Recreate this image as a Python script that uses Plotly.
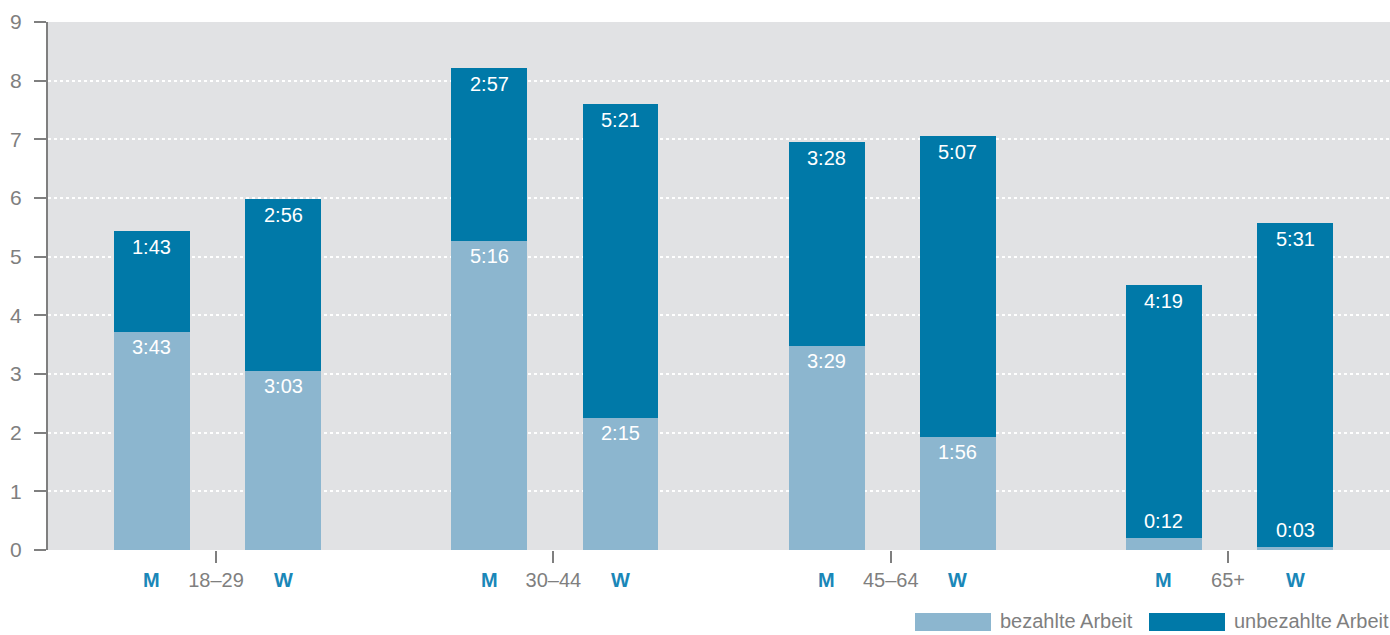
"""Stacked bar chart: paid vs unpaid work by age group and gender."""

import plotly.graph_objects as go

# data (hours:minutes per day)
age_groups = ['18–29', '30–44', '45–64', '65+']
genders = ['M', 'W']
paid = ['3:43', '3:03', '5:16', '2:15', '3:29', '1:56', '0:12', '0:03']
unpaid = ['1:43', '2:56', '2:57', '5:21', '3:28', '5:07', '4:19', '5:31']
series_names = ['bezahlte Arbeit', 'unbezahlte Arbeit']

LIGHT = '#8cb6cf'
DARK = '#0079a8'
GRAY = '#7f7f7f'
FONT = 'Liberation Sans Narrow, Arial Narrow, Liberation Sans, sans-serif'


def to_hours(s):
    h, m = s.split(':')
    return int(h) + int(m) / 60


xs = []
for i in range(len(age_groups)):
    xs += [i - 0.19, i + 0.199]

paid_h = [to_hours(v) for v in paid]
unpaid_h = [to_hours(v) for v in unpaid]

fig = go.Figure()
fig.add_trace(go.Bar(x=xs, y=paid_h, name=series_names[0], marker_color=LIGHT,
                     width=0.225, marker_line_width=0))
fig.add_trace(go.Bar(x=xs, y=unpaid_h, name=series_names[1], marker_color=DARK,
                     width=0.225, marker_line_width=0))

label_font = dict(color='white', size=20, family=FONT)

# value labels inside the segments
for x, p, u, pl, ul in zip(xs, paid_h, unpaid_h, paid, unpaid):
    fig.add_annotation(x=x, y=p + u, text=ul, showarrow=False, yanchor='top',
                       yshift=-3, font=label_font)
    if p < 0.5:
        # tiny segment: label sits just above it
        fig.add_annotation(x=x, y=p, text=pl, showarrow=False, yanchor='bottom',
                           yshift=4, font=label_font)
    else:
        fig.add_annotation(x=x, y=p, text=pl, showarrow=False, yanchor='top',
                           yshift=-2, font=label_font)

# M / W labels under bars
for i, x in enumerate(xs):
    fig.add_annotation(x=x, y=0, yref='y', text='<b>' + genders[i % 2] + '</b>',
                       showarrow=False, yanchor='middle', yshift=-30,
                       font=dict(color='#1a87b8', size=20, family=FONT))

# custom legend (wide swatches), positions in pixels of the figure
W, H, L, B, T = 1390, 635, 48, 85, 22
PW, PH = W - L, H - T - B
legend_items = [(LIGHT, series_names[0], 915), (DARK, series_names[1], 1149)]
for color, name, px0 in legend_items:
    fig.add_shape(type='rect', xref='paper', yref='paper',
                  x0=(px0 - L) / PW, x1=(px0 + 76 - L) / PW,
                  y0=-(631 - T - PH) / PH, y1=-(613 - T - PH) / PH,
                  fillcolor=color, line_width=0)
    fig.add_annotation(xref='paper', yref='paper', x=(px0 + 83 - L) / PW,
                       y=-(621 - T - PH) / PH, text=name, showarrow=False,
                       xanchor='left', yanchor='middle',
                       font=dict(color=GRAY, size=20, family=FONT))

fig.update_layout(
    width=W, height=H,
    margin=dict(l=L, r=0, t=T, b=B, pad=0),
    barmode='stack',
    bargap=0,
    showlegend=False,
    plot_bgcolor='#e1e2e4',
    paper_bgcolor='white',
    font=dict(family=FONT, color=GRAY, size=20),
    xaxis=dict(
        range=[-0.498, 3.48],
        tickvals=list(range(len(age_groups))),
        ticktext=age_groups,
        ticks='outside', ticklen=12, tickcolor=GRAY, tickwidth=2,
        showgrid=False, zeroline=False, showline=False,
        tickfont=dict(size=20, color=GRAY),
    ),
    yaxis=dict(
        range=[0, 9], dtick=1,
        ticks='outside', ticklen=12, tickcolor=GRAY, tickwidth=2,
        ticklabelstandoff=8,
        showline=True, linecolor=GRAY, linewidth=2,
        gridcolor='white', griddash='dot', gridwidth=2,
        zeroline=False,
        tickfont=dict(size=21, color=GRAY),
    ),
)

fig.write_html("out.html", config={'displayModeBar': False},
               post_script="document.body.style.margin='0px';")
